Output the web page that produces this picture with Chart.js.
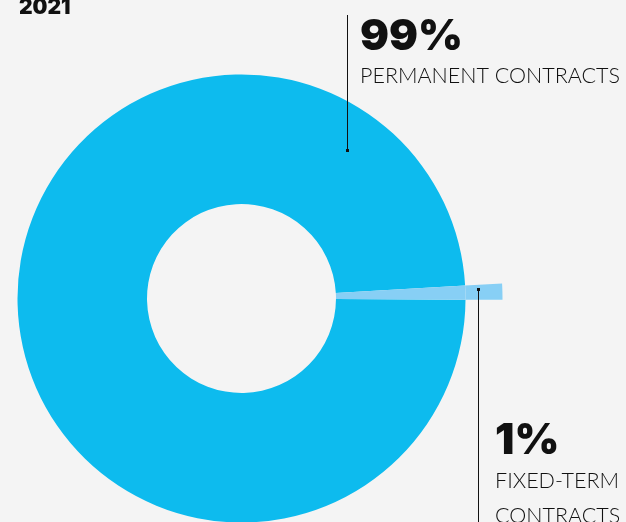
<!DOCTYPE html>
<html>
<head>
<meta charset="utf-8">
<script src="https://cdn.jsdelivr.net/npm/chart.js@4.4.1/dist/chart.umd.min.js"></script>
<style>
  html, body { margin: 0; padding: 0; background: #f4f4f4; overflow: hidden; }
  #wrap { position: relative; width: 626px; height: 522px; }
</style>
</head>
<body>
<div id="wrap"><canvas id="contractsChart" width="626" height="522"></canvas></div>
<script>
'use strict'

// Données
const year = '2021';
const categories = [['PERMANENT CONTRACTS'], ['FIXED-TERM', 'CONTRACTS']];
const shares = [99, 1];

const BLUE = '#0dbbee';
const LIGHT_BLUE = '#87cff5';

// Etiquettes avec traits de rappel
const callouts = [
  { lineX: 347, lineTop: 15, lineBottom: 150, dotY: 150, textX: 360, valueY: 50, labelY: [83] },
  { lineX: 478, lineTop: 289, lineBottom: 522, dotY: 289, textX: 495, valueY: 454, labelY: [488, 523] }
];

const calloutPlugin = {
  id: 'callouts',
  afterDraw(chart) {
    const ctx = chart.ctx;
    ctx.save();
    ctx.fillStyle = '#111';
    ctx.strokeStyle = '#111';
    ctx.textBaseline = 'alphabetic';
    ctx.textAlign = 'left';

    ctx.font = '900 21px Inter';
    ctx.fillText(year, 19, 14);

    callouts.forEach((c, i) => {
      ctx.lineWidth = 1;
      ctx.beginPath();
      ctx.moveTo(c.lineX + 0.5, c.lineTop);
      ctx.lineTo(c.lineX + 0.5, c.lineBottom);
      ctx.stroke();
      ctx.fillRect(c.lineX - 1, c.dotY - 1, 3, 3);

      ctx.font = '900 43px Inter';
      ctx.fillText(shares[i] + '%', c.textX, c.valueY);

      ctx.font = '300 21.5px Lato';
      categories[i].forEach((line, j) => ctx.fillText(line, c.textX, c.labelY[j]));
    });
    ctx.restore();
  }
};

const ctx = document.getElementById('contractsChart').getContext('2d');
const contractsChart = new Chart(ctx, {
  type: 'doughnut',
  data: {
    labels: categories.map(l => l.join(' ')),
    datasets: [
      {
        // anneau extérieur : seulement la part CDD dépasse
        data: shares,
        backgroundColor: ['rgba(0,0,0,0)', LIGHT_BLUE],
        weight: 37,
        clip: false
      },
      {
        data: shares,
        backgroundColor: [BLUE, LIGHT_BLUE],
        weight: 129.5,
        clip: false
      }
    ]
  },
  options: {
    responsive: false,
    animation: false,
    events: [],
    radius: 261,
    cutout: '36.2%',
    rotation: 90.3,
    borderWidth: 0,
    layout: { padding: { left: 0, right: 143, top: 75, bottom: 0 } },
    plugins: {
      legend: { display: false },
      tooltip: { enabled: false }
    }
  },
  plugins: [calloutPlugin]
});
</script>
</body>
</html>
